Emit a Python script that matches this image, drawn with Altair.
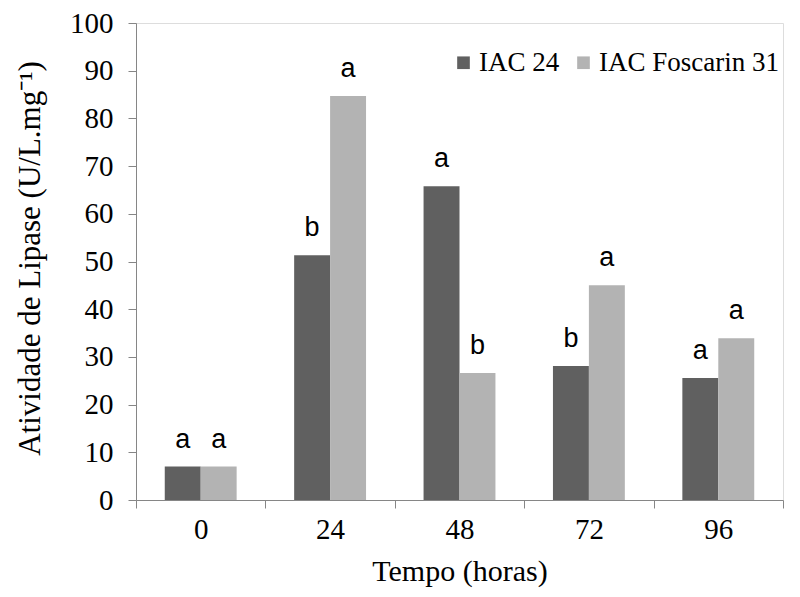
import altair as alt
import pandas as pd

tempos = ["0", "24", "48", "72", "96"]
series = ["IAC 24", "IAC Foscarin 31"]
iac24 = [7.0, 51.3, 65.8, 28.1, 25.6]
foscarin = [7.0, 84.7, 26.6, 45.0, 33.9]
letras_iac24 = ["a", "b", "a", "b", "a"]
letras_foscarin = ["a", "a", "b", "a", "a"]

rows = []
for i, t in enumerate(tempos):
    rows.append({"tempo": t, "serie": series[0], "valor": iac24[i], "letra": letras_iac24[i]})
    rows.append({"tempo": t, "serie": series[1], "valor": foscarin[i], "letra": letras_foscarin[i]})
df = pd.DataFrame(rows)

SERIF = "Liberation Serif"
FS = 29
AXC = "#868686"

x_enc = alt.X(
    "tempo:N",
    sort=tempos,
    scale=alt.Scale(paddingInner=0, paddingOuter=0),
    axis=alt.Axis(
        title="Tempo (horas)",
        labelAngle=0,
        tickBand="extent",
        tickSize=8,
        tickColor=AXC,
        domainColor=AXC,
        labelFont=SERIF,
        labelFontSize=FS,
        labelColor="#000000",
        labelPadding=7,
        titleFont=SERIF,
        titleFontSize=FS + 1,
        titleFontWeight="normal",
        titleColor="#000000",
        titleY=71,
        titleBaseline="middle",
    ),
)
xoff = alt.XOffset("serie:N", sort=series, scale=alt.Scale(paddingOuter=0.8, paddingInner=0))

y_enc = alt.Y(
    "valor:Q",
    scale=alt.Scale(domain=[0, 100], nice=False, zero=True),
    axis=alt.Axis(
        title="Atividade de Lipase (U/L.mg⁻¹)",
        values=list(range(0, 101, 10)),
        grid=False,
        tickSize=8,
        tickColor=AXC,
        domainColor=AXC,
        labelFont=SERIF,
        labelFontSize=FS,
        labelColor="#000000",
        labelPadding=15,
        titleFont=SERIF,
        titleFontSize=31,
        titleFontWeight="normal",
        titleColor="#000000",
        titleX=-106,
        titleY=235,
        titleAngle=270,
        titleAlign="center",
        titleBaseline="middle",
    ),
)

color_enc = alt.Color(
    "serie:N",
    sort=series,
    scale=alt.Scale(domain=series, range=["#606060", "#b3b3b3"]),
    legend=alt.Legend(
        title=None,
        orient="none",
        legendX=314,
        legendY=26,
        direction="horizontal",
        symbolType="square",
        symbolSize=160,
        symbolStrokeWidth=0,
        labelFont=SERIF,
        labelFontSize=27,
        labelColor="#000000",
        labelOffset=2,
        labelLimit=0,
        columnPadding=10,
    ),
)

bars = alt.Chart(df).mark_bar(stroke=None).encode(
    x=x_enc, xOffset=xoff, y=y_enc, color=color_enc
)

letters = alt.Chart(df).mark_text(
    font="Liberation Sans", fontSize=27, baseline="alphabetic", dy=-19, color="#000000"
).encode(
    x=alt.X("tempo:N", sort=tempos),
    xOffset=alt.XOffset("serie:N", sort=series),
    y=alt.Y("valor:Q"),
    text="letra:N",
)

chart = (
    alt.layer(bars, letters)
    .properties(
        width=647,
        height=477,
        autosize=alt.AutoSizeParams(type="none"),
        padding={"left": 128, "top": 15, "right": 9, "bottom": 89},
    )
    .configure_view(stroke=None)
    .configure(background="white")
)

chart.save("out.html", embed_options={"renderer": "svg", "actions": False})
